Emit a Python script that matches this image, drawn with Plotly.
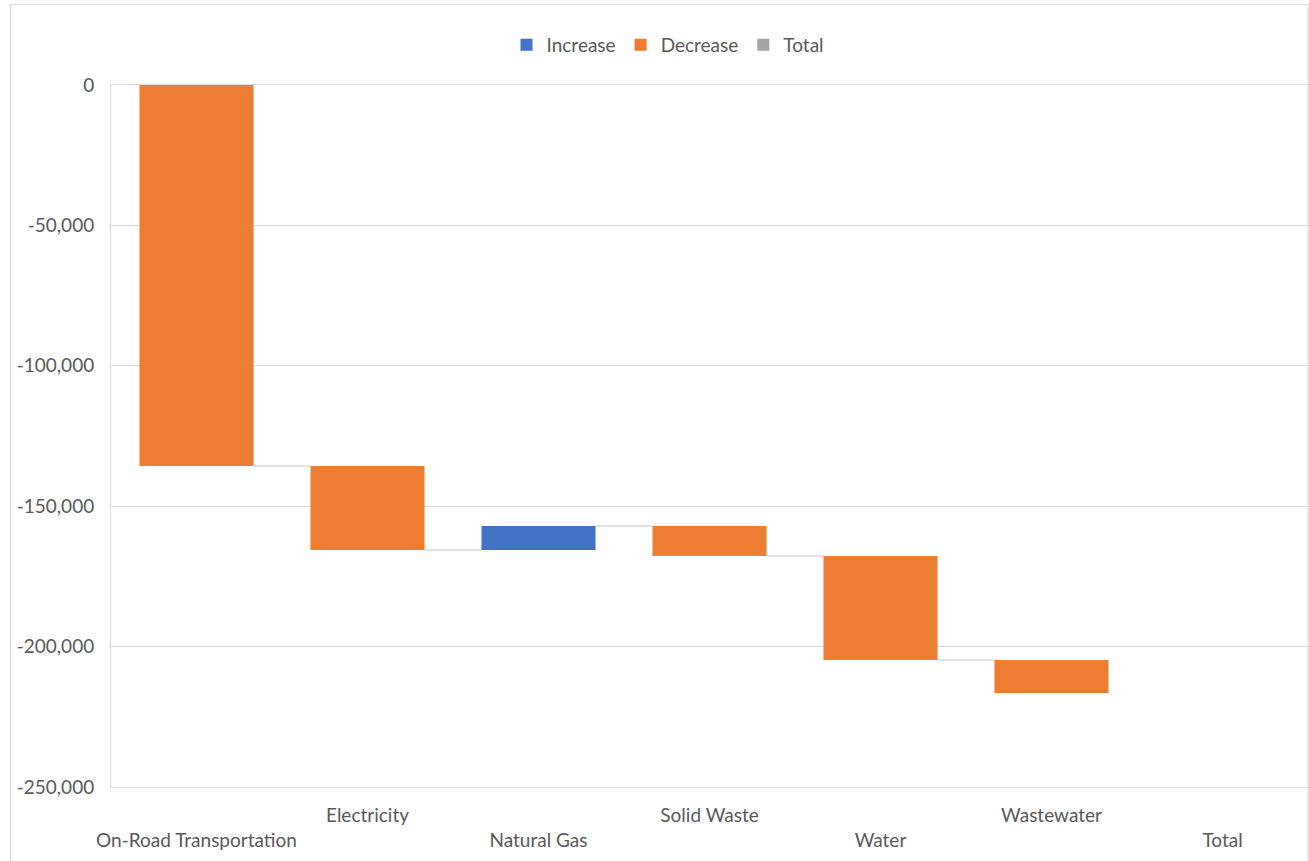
import plotly.graph_objects as go

categories = ["On-Road Transportation", "Electricity", "Natural Gas",
              "Solid Waste", "Water", "Wastewater", "Total"]
changes = [-135700, -29900, 8550, -10650, -37100, -11700]
total_value = 0
tick_vals = [0, -50000, -100000, -150000, -200000, -250000]
tick_text = ["0", "-50,000", "-100,000", "-150,000", "-200,000", "-250,000"]

BLUE = "#4472C4"
ORANGE = "#ED7D31"
GRAY = "#A5A5A5"
GRID = "#D9D9D9"
TXT = "#595959"
FONT = "Lato"
BW = 0.667

# running totals
starts, ends = [], []
run = 0
for c in changes:
    starts.append(run)
    run += c
    ends.append(run)

inc_x = [categories[i] for i, c in enumerate(changes) if c > 0]
inc_b = [starts[i] for i, c in enumerate(changes) if c > 0]
inc_y = [c for c in changes if c > 0]
dec_x = [categories[i] for i, c in enumerate(changes) if c < 0]
dec_b = [starts[i] for i, c in enumerate(changes) if c < 0]
dec_y = [c for c in changes if c < 0]

fig = go.Figure()
fig.add_trace(go.Bar(name="Increase", x=inc_x, y=inc_y, base=inc_b,
                     marker=dict(color=BLUE, line=dict(width=0)), width=BW))
fig.add_trace(go.Bar(name="Decrease", x=dec_x, y=dec_y, base=dec_b,
                     marker=dict(color=ORANGE, line=dict(width=0)), width=BW))
fig.add_trace(go.Bar(name="Total", x=[categories[-1]], y=[total_value], base=[0],
                     marker=dict(color=GRAY, line=dict(width=0)), width=BW))

# connectors
for i in range(len(changes) - 1):
    fig.add_shape(type="line", xref="x", yref="y",
                  x0=i + BW / 2, x1=i + 1 - BW / 2, y0=ends[i], y1=ends[i],
                  line=dict(color=GRID, width=1.5), layer="below")

ticktext_x = []
for i, c in enumerate(categories):
    ticktext_x.append(c if i % 2 == 1 else " <br>" + c)

# chart border
L, R, T, B = 111, 1308, 85, 787
pw, ph = R - L, B - T
def px(x):
    return (x - L) / pw
def py(y):
    return (B - y) / ph
fig.add_shape(type="path", xref="paper", yref="paper",
              path=f"M{px(10.5)},{py(900)} L{px(10.5)},{py(4.5)} L{px(1308)},{py(4.5)} L{px(1308)},{py(900)}",
              line=dict(color=GRID, width=1.2))

fig.update_layout(
    width=1309, height=861,
    margin=dict(l=L, r=1309 - R, t=T, b=861 - B),
    paper_bgcolor="white", plot_bgcolor="white",
    barmode="overlay",
    font=dict(family=FONT, size=19, color=TXT),
    showlegend=True,
    legend=dict(orientation="h", x=px(668), xanchor="center", y=py(45), yanchor="middle",
                font=dict(family=FONT, size=19, color=TXT), itemclick=False,
                traceorder="normal"),
    xaxis=dict(type="category", categoryorder="array", categoryarray=categories,
               tickmode="array", tickvals=categories, ticktext=ticktext_x,
               showgrid=False, zeroline=False,
               showline=True, mirror=True, linecolor=GRID, linewidth=1,
               ticks="outside", ticklen=11, tickcolor="rgba(0,0,0,0)",
               tickangle=0, range=[-0.5, 6.5]),
    yaxis=dict(range=[-250000, 0], tickvals=tick_vals, ticktext=tick_text,
               showgrid=True, gridcolor=GRID, gridwidth=1,
               zeroline=False, showline=True, linecolor=GRID, linewidth=1,
               ticks="outside", ticklen=12, tickcolor="rgba(0,0,0,0)"),
)
fig.write_html("out.html")
